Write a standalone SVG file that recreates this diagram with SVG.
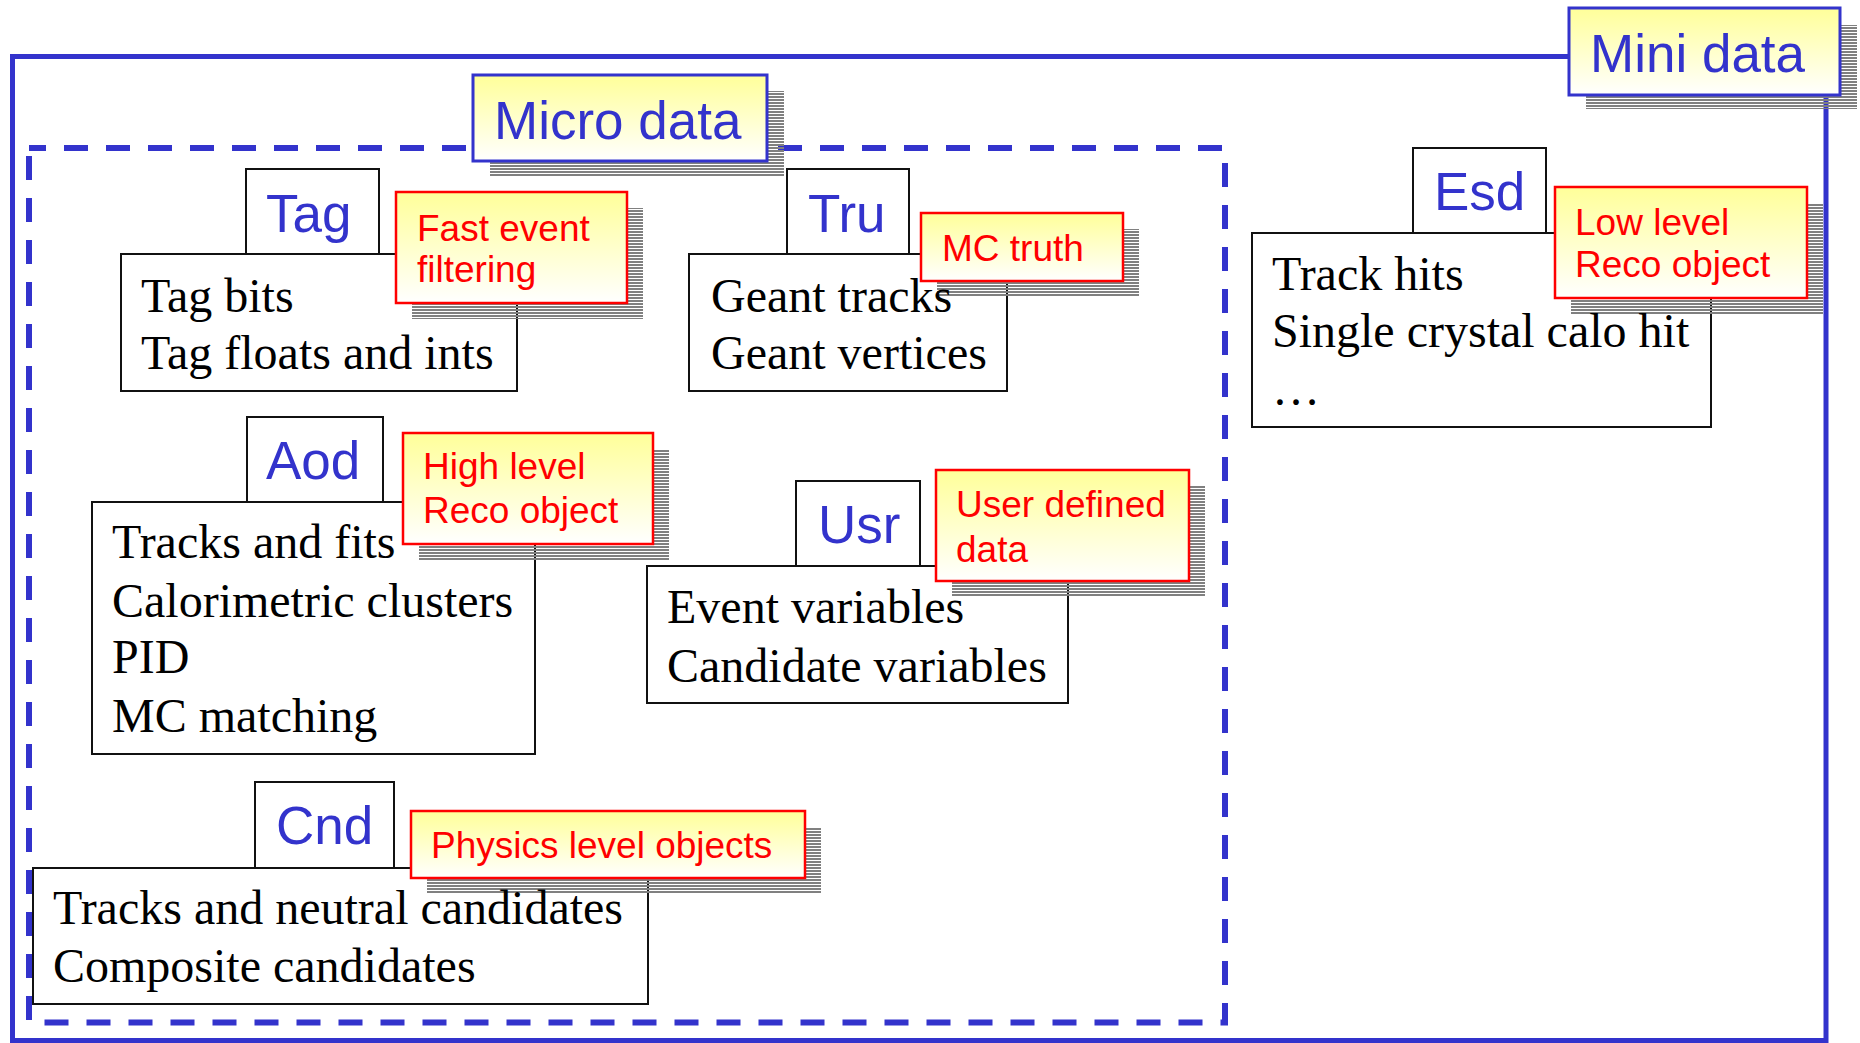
<svg xmlns="http://www.w3.org/2000/svg" width="1860" height="1043" viewBox="0 0 1860 1043">
  <defs>
    <linearGradient id="note" x1="0" y1="0" x2="0" y2="1">
      <stop offset="0" stop-color="#ffff99"/>
      <stop offset="1" stop-color="#ffffff"/>
    </linearGradient>
    <pattern id="stripes" patternUnits="userSpaceOnUse" width="4" height="3">
      <rect x="0" y="0" width="4" height="2" fill="#808080"/>
    </pattern>
  </defs>
  <style>
    .frame { fill: none; stroke: #3333cc; stroke-width: 5; }
    .dash { fill: none; stroke: #3333cc; stroke-width: 6; stroke-dasharray: 24 18; stroke-dashoffset: 7; }
    .shadow { fill: url(#stripes); }
    .label { fill: url(#note); stroke: #3333cc; stroke-width: 3; }
    .label-text { font-family: "Liberation Sans", Arial, sans-serif; font-size: 53px; fill: #3333cc; }
    .box { fill: #ffffff; stroke: #111111; stroke-width: 2; }
    .title { font-family: "Liberation Sans", Arial, sans-serif; font-size: 53px; fill: #3333cc; }
    .body { font-family: "Liberation Serif", "Times New Roman", serif; font-size: 48px; fill: #000000; }
    .note { fill: url(#note); stroke: #ff0000; stroke-width: 2.5; }
    .note-text { font-family: "Liberation Sans", Arial, sans-serif; font-size: 37px; fill: #ff0000; }
  </style>

  <!-- enclosing data-tier frames -->
  <g id="mini-data">
    <rect class="frame" x="12.5" y="56.5" width="1813.5" height="984"/>
  </g>
  <g id="micro-data">
    <rect class="dash" x="29" y="148" width="1196" height="874.5"/>
  </g>

  <g id="mini-data-label">
    <rect class="shadow" x="1586" y="25" width="271" height="84"/>
    <rect class="label" x="1569" y="8" width="271" height="87"/>
    <text class="label-text" x="1590" y="72">Mini data</text>
  </g>
  <g id="micro-data-label">
    <rect class="shadow" x="490" y="91" width="294" height="86"/>
    <rect class="label" x="473" y="75" width="294" height="86"/>
    <text class="label-text" x="494" y="139">Micro data</text>
  </g>

  <g id="connectors"/>

  <!-- Tag -->
  <g id="node-tag">
    <rect class="box" x="121" y="254" width="396" height="137"/>
    <rect class="box" x="246" y="169" width="133" height="85"/>
    <text class="title" x="266" y="232">Tag</text>
    <rect class="shadow" x="412" y="208" width="231" height="111"/>
    <text class="body" x="141" y="312">Tag bits</text>
    <text class="body" x="141" y="369">Tag floats and ints</text>
    <rect class="note" x="396" y="192" width="231" height="111"/>
    <text class="note-text" x="417" y="241">Fast event</text>
    <text class="note-text" x="417" y="282">filtering</text>
  </g>

  <!-- Tru -->
  <g id="node-tru">
    <rect class="box" x="689" y="254" width="318" height="137"/>
    <rect class="box" x="787" y="169" width="122" height="85"/>
    <text class="title" x="808" y="232">Tru</text>
    <rect class="shadow" x="937" y="229" width="202" height="68"/>
    <text class="body" x="711" y="312">Geant tracks</text>
    <text class="body" x="711" y="369">Geant vertices</text>
    <rect class="note" x="921" y="213" width="202" height="68"/>
    <text class="note-text" x="942" y="261">MC truth</text>
  </g>

  <!-- Esd -->
  <g id="node-esd">
    <rect class="box" x="1252" y="233" width="459" height="194"/>
    <rect class="box" x="1413" y="148" width="133" height="85"/>
    <text class="title" x="1434" y="210">Esd</text>
    <rect class="shadow" x="1571" y="203" width="252" height="111"/>
    <text class="body" x="1272" y="290">Track hits</text>
    <text class="body" x="1272" y="347">Single crystal calo hit</text>
    <text class="body" x="1272" y="405">…</text>
    <rect class="note" x="1555" y="187" width="252" height="111"/>
    <text class="note-text" x="1575" y="235">Low level</text>
    <text class="note-text" x="1575" y="277">Reco object</text>
  </g>

  <!-- Aod -->
  <g id="node-aod">
    <rect class="box" x="92" y="502" width="443" height="252"/>
    <rect class="box" x="247" y="417" width="136" height="85"/>
    <text class="title" x="266" y="479">Aod</text>
    <rect class="shadow" x="419" y="449" width="250" height="111"/>
    <text class="body" x="112" y="558">Tracks and fits</text>
    <text class="body" x="112" y="617">Calorimetric clusters</text>
    <text class="body" x="112" y="673">PID</text>
    <text class="body" x="112" y="732">MC matching</text>
    <rect class="note" x="403" y="433" width="250" height="111"/>
    <text class="note-text" x="423" y="479">High level</text>
    <text class="note-text" x="423" y="523">Reco object</text>
  </g>

  <!-- Usr -->
  <g id="node-usr">
    <rect class="box" x="647" y="566" width="421" height="137"/>
    <rect class="box" x="796" y="481" width="124" height="85"/>
    <text class="title" x="818" y="543">Usr</text>
    <rect class="shadow" x="952" y="486" width="253" height="111"/>
    <text class="body" x="667" y="623">Event variables</text>
    <text class="body" x="667" y="682">Candidate variables</text>
    <rect class="note" x="936" y="470" width="253" height="111"/>
    <text class="note-text" x="956" y="517">User defined</text>
    <text class="note-text" x="956" y="562">data</text>
  </g>

  <!-- Cnd -->
  <g id="node-cnd">
    <rect class="box" x="33" y="868" width="615" height="136"/>
    <rect class="box" x="255" y="782" width="139" height="86"/>
    <text class="title" x="276" y="844">Cnd</text>
    <rect class="shadow" x="427" y="827" width="394" height="67"/>
    <text class="body" x="53" y="924">Tracks and neutral candidates</text>
    <text class="body" x="53" y="982">Composite candidates</text>
    <rect class="note" x="411" y="811" width="394" height="67"/>
    <text class="note-text" x="431" y="858">Physics level objects</text>
  </g>
</svg>
